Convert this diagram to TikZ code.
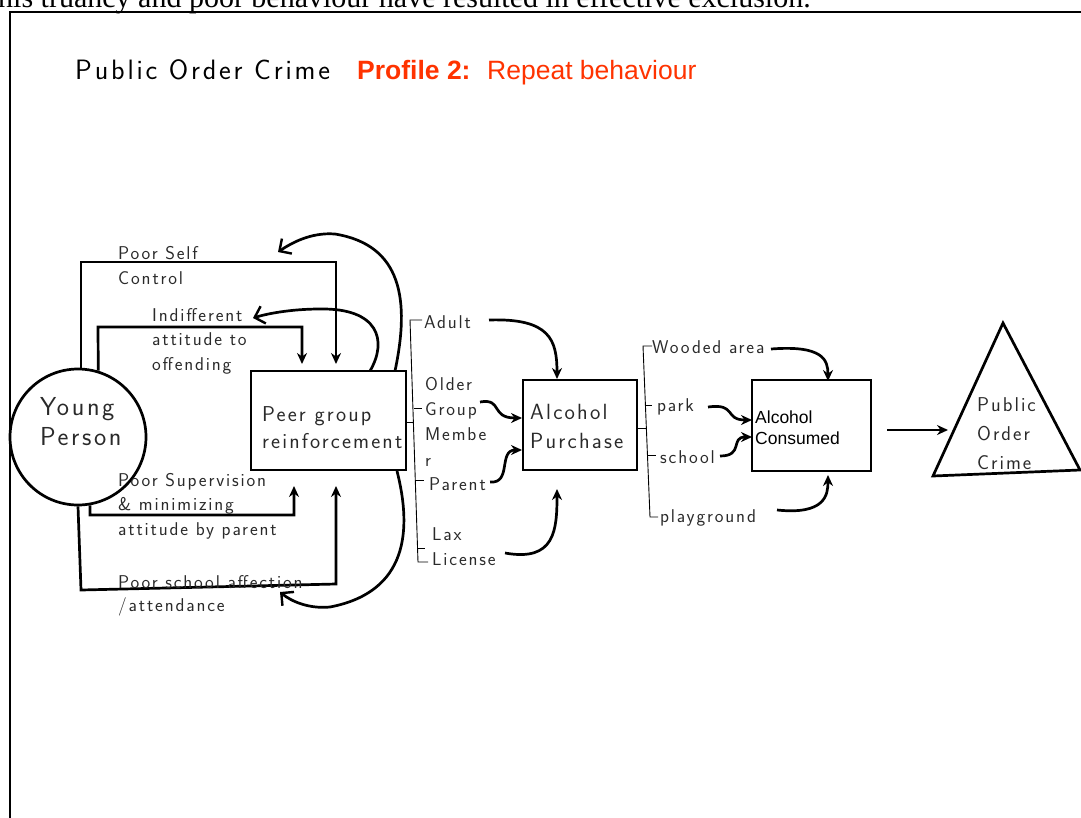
\documentclass[tikz,border=0pt]{standalone}
\usepackage{fontspec}
\setmainfont{Liberation Serif}
\newfontfamily\arial{Liberation Sans}
\newfontfamily\hand[LetterSpace=10]{Latin Modern Sans}
\usetikzlibrary{arrows.meta,calc}
\definecolor{titlered}{HTML}{FF3300}
\definecolor{handink}{HTML}{2A2A2A}
\begin{document}
\begin{tikzpicture}[x=1pt,y=-1pt,
  heavy/.style={line width=2.7pt},
  thinl/.style={line width=0.9pt},
  arr/.style={heavy,-{Stealth[length=11pt,width=10pt]}},
  barb/.style={heavy,-{Straight Barb[length=9pt,width=18pt,line width=2.4pt]}},
  hw/.style={font=\hand\fontsize{18.5}{25}\selectfont,text=handink,anchor=base west,inner sep=0pt,align=left},
  boxn/.style={draw,heavy,inner sep=0pt}]
\useasboundingbox (0,0) rectangle (1081,817);
% top cut-off sentence
\node[anchor=base west,inner sep=0pt,font=\fontsize{30}{34}\selectfont] (topline) at (-2,7) {his truancy and poor behaviour have resulted in effective exclusion.};
% frame
\draw[line width=1.8pt] (10,830) -- (10,12) -- (1090,12);
% title
\node[hw,font=\hand\fontsize{28}{30}\selectfont,text=black] (t1) at (75,79) {Public Order Crime};
\node[anchor=base west,inner sep=0pt,font=\arial\bfseries\fontsize{26.5}{30}\selectfont,text=titlered] (t2) at (357,79) {Profile 2:};
\node[anchor=base west,inner sep=0pt,font=\arial\fontsize{26.5}{30}\selectfont,text=titlered] (t3) at (487,79) {Repeat behaviour};

% main nodes
\node[draw,heavy,circle,minimum size=136pt,inner sep=0pt] (yp) at (78,437) {};
\node[hw,font=\hand\fontsize{26}{30}\selectfont] (ypt) at (40,445) {Young\\Person};
\node[boxn,minimum width=155pt,minimum height=99pt] (pg) at (328.5,420.5) {};
\node[hw,font=\hand\fontsize{21.5}{27}\selectfont] (pgt) at (262,448) {Peer group\\reinforcement};
\node[boxn,minimum width=114pt,minimum height=90pt] (ap) at (580,425) {};
\node[hw,font=\hand\fontsize{22}{29}\selectfont] (apt) at (530,448) {Alcohol\\Purchase};
\node[boxn,minimum width=119pt,minimum height=91pt] (ac) at (811.5,425.5) {};
\node[anchor=base west,inner sep=0pt,align=left,font=\arial\fontsize{17.5}{21}\selectfont] (act) at (755,444) {Alcohol\\Consumed};
\coordinate (tA) at (1003,323);
\coordinate (tL) at (933,476);
\coordinate (tR) at (1080,470);
\draw[heavy,line join=miter] (tA) -- (tR) -- (tL) -- cycle;
\node[hw,font=\hand\fontsize{20}{29}\selectfont] (pct) at (977,469) {Public\\Order\\Crime};

% influences from young person
\coordinate (s1) at (336,364);
\coordinate (s2) at (302,364);
\coordinate (s3) at (294,486);
\coordinate (s4) at (336,486);
\draw[arr] ($(yp.north)+(3,0)$) |- (336,262) -- (s1);
\draw[arr] (yp.73) -- (98,327) -| (s2);
\draw[arr] (yp.-80) -- (90,515) -| (s3);
\draw[arr] (yp.south) -- (81,590) -- (336,584) -- (s4);
\node[hw] (l1) at (118,284) {Poor Self\\Control};
\node[hw,font=\hand\fontsize{18.5}{24.5}\selectfont] (l2) at (152,370) {Indifferent\\attitude to\\offending};
\node[hw,font=\hand\fontsize{18.5}{24.5}\selectfont] (l3) at (118,535) {Poor Supervision\\\& minimizing\\attitude by parent};
\node[hw,font=\hand\fontsize{18.5}{23}\selectfont] (l4) at (118,611) {Poor school affection\\/attendance};

% feedback curves
\coordinate (f1s) at (370,371);
\coordinate (f1e) at (253,318);
\coordinate (f2s) at (395,371);
\coordinate (f2e) at (278,252);
\coordinate (f3s) at (397,471);
\coordinate (f3e) at (280,592);
\draw[barb] (f1s) .. controls (388,340) and (378,308) .. (320,309) .. controls (290,309) and (266,314) .. (f1e);
\draw[barb] (f2s) .. controls (410,300) and (402,245) .. (335,234) .. controls (310,232) and (290,244) .. (f2e);
\draw[barb] (f3s) .. controls (412,530) and (408,592) .. (330,607) .. controls (310,609) and (292,602) .. (f3e);

% bracket 1
\coordinate (b1t) at (410,320);
\coordinate (b1b) at (418,562);
\draw[thinl] (pg.east |- 0,422) -- (413,422);
\draw[thinl] (422,320) -- (b1t) -- (b1b) -- (428,562);
\draw[thinl] (414,408) -- (422,408);
\draw[thinl] (416,480) -- (424,480);
\draw[thinl] (417,548) -- (425,548);
\node[hw] (a1) at (424,328) {Adult};
\node[hw,font=\hand\fontsize{18.5}{25.3}\selectfont] (a2) at (425,466) {Older\\Group\\Membe\\r};
\node[hw] (a3) at (429,490) {Parent};
\node[hw] (a4) at (432,565) {Lax\\License};
\coordinate (ap1) at (557,379);
\coordinate (ap2) at (522,418);
\coordinate (ap3) at (522,450);
\coordinate (ap4) at (557,489);
\draw[arr] (489,320) .. controls (550,318) and (557,340) .. (ap1);
\draw[arr] (480,402) .. controls (503,398) and (490,418) .. (ap2);
\draw[arr] (490,482) .. controls (512,484) and (498,450) .. (ap3);
\draw[arr] (505,553) .. controls (555,562) and (557,530) .. (ap4);

% bracket 2
\coordinate (b2t) at (643,346);
\coordinate (b2b) at (650,517);
\draw[thinl] (ap.east |- 0,428) -- (646,428);
\draw[thinl] (652,346) -- (b2t) -- (b2b) -- (658,517);
\draw[thinl] (645,405) -- (652,405);
\draw[thinl] (648,455) -- (656,455);
\node[hw] (w1) at (652,353) {Wooded area};
\node[hw] (w2) at (657,411) {park};
\node[hw] (w3) at (660,463) {school};
\node[hw] (w4) at (660,522) {playground};
\coordinate (ac1) at (828,381);
\coordinate (ac2) at (752,420);
\coordinate (ac3) at (752,437);
\coordinate (ac4) at (828,475);
\draw[arr] (771,349) .. controls (823,345) and (828,360) .. (ac1);
\draw[arr] (708,407) .. controls (737,403) and (724,420) .. (ac2);
\draw[arr] (720,456) .. controls (744,456) and (730,437) .. (ac3);
\draw[arr] (777,510) .. controls (825,515) and (828,495) .. (ac4);

% to public order crime
\coordinate (pc) at (948,430);
\draw[arr] (887,430) -- (pc);
\end{tikzpicture}
\end{document}
